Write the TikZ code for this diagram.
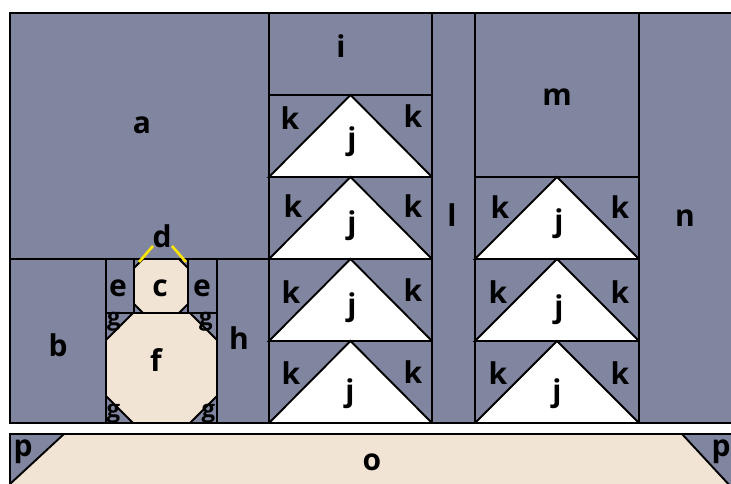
\documentclass[tikz,border=0pt]{standalone}
\usepackage{fontspec}
\setmainfont{Open Sans}[BoldFont={Open Sans Bold}]
\definecolor{slate}{RGB}{128,134,160}
\definecolor{beige}{RGB}{242,228,212}
\definecolor{yel}{RGB}{255,230,0}
\tikzset{
  patch/.style={draw=black, line width=1.9pt, fill=slate, line join=miter},
  tri/.style={draw=black, line width=1.9pt, fill=white, line join=miter},
  oct/.style={draw=black, line width=1.9pt, fill=beige, line join=miter},
  lab/.style={font=\fontsize{30}{32}\selectfont\bfseries, inner sep=0pt},
  glab/.style={font=\fontsize{24}{26}\selectfont\bfseries, inner sep=0pt},
  yline/.style={draw=yel, line width=2.6pt}
}
\begin{document}
\begin{tikzpicture}[x=1pt,y=-1pt]
\useasboundingbox (0,0) rectangle (731,484);
\clip (0,0) rectangle (731,484);
% upper section
\path[patch] (10,13) rectangle (269,259);
\path[patch] (10,259) rectangle (106,423);
\path[patch] (106,259) rectangle (134,313);
\path[patch] (134,259) rectangle (188,313);
\path[patch] (188,259) rectangle (217,313);
\path[patch] (106,313) rectangle (217,423);
\path[patch] (217,259) rectangle (269,423);
\path[patch] (269,13) rectangle (432,95);
\foreach \t in {95,177,259,341}{
  \path[patch] (269,\t) rectangle (432,\t+82);
  \path[tri] (269,\t+82) -- (350.5,\t) -- (432,\t+82) -- cycle;
}
\path[patch] (432,13) rectangle (475,423);
\path[patch] (475,13) rectangle (639,177);
\foreach \t in {177,259,341}{
  \path[patch] (475,\t) rectangle (639,\t+82);
  \path[tri] (475,\t+82) -- (557,\t) -- (639,\t+82) -- cycle;
}
\path[patch] (639,13) rectangle (745,423);
% octagons
\path[oct] (143,259) -- (179,259) -- (188,268) -- (188,304) -- (179,313) -- (143,313) -- (134,304) -- (134,268) -- cycle;
\path[oct] (133,313) -- (190,313) -- (217,340) -- (217,396) -- (190,423) -- (133,423) -- (106,396) -- (106,340) -- cycle;
% g labels
\node[glab] (lg1) at (114,322) {g};
\node[glab] (lg2) at (206,322) {g};
\node[glab] (lg3) at (113.5,414) {g};
\node[glab] (lg4) at (208.5,414) {g};
% bottom strip
\path[oct] (10,434) rectangle (745,500);
\path[patch] (10,434) -- (64,434) -- (10,484) -- cycle;
\path[patch] (682,434) -- (745,434) -- (745,502) -- cycle;
% yellow lines
\coordinate (y1a) at (139,262); \coordinate (y1b) at (153,246);
\coordinate (y2a) at (172,246); \coordinate (y2b) at (186,262);
\draw[yline] (y1a) -- (y1b);
\draw[yline] (y2a) -- (y2b);
% labels
\node[lab] (la) at (142,125) {a};
\node[lab] (lb) at (58,345) {b};
\node[lab] (lc) at (160,288) {c};
\node[lab] (ld) at (162,236) {d};
\node[lab] (le1) at (118,288) {e};
\node[lab] (le2) at (202,288) {e};
\node[lab] (lf) at (156,360) {f};
\node[lab] (lh) at (239,338) {h};
\node[lab] (li) at (341,46) {i};
\node[lab] (ll) at (452,215) {l};
\node[lab] (lm) at (557,97) {m};
\node[lab] (ln) at (685,218) {n};
\node[lab] (lo) at (372,462) {o};
\node[lab] (lp1) at (23,452) {p};
\node[lab] (lp2) at (721,452) {p};
% k and j labels, left column
\node[lab] (k1l) at (290,118) {k}; \node[lab] (k1r) at (413,116) {k}; \node[lab] (j1) at (352,142) {j};
\node[lab] (k2l) at (293,206) {k}; \node[lab] (k2r) at (413,206) {k}; \node[lab] (j2) at (352,226) {j};
\node[lab] (k3l) at (291,292) {k}; \node[lab] (k3r) at (413,290) {k}; \node[lab] (j3) at (352,308) {j};
\node[lab] (k4l) at (291,373) {k}; \node[lab] (k4r) at (413,372) {k}; \node[lab] (j4) at (350,394) {j};
% right column
\node[lab] (k5l) at (500,207) {k}; \node[lab] (k5r) at (620,207) {k}; \node[lab] (j5) at (559,224) {j};
\node[lab] (k6l) at (498,292) {k}; \node[lab] (k6r) at (620,292) {k}; \node[lab] (j6) at (559,310) {j};
\node[lab] (k7l) at (498,373) {k}; \node[lab] (k7r) at (620,373) {k}; \node[lab] (j7) at (557,394) {j};
\end{tikzpicture}
\end{document}
